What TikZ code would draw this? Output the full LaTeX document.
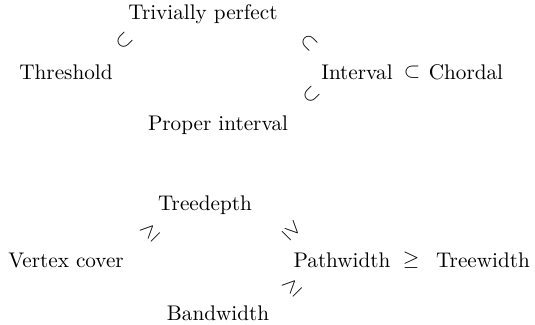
\documentclass[tikz,border=0pt]{standalone}
\begin{document}
\begin{tikzpicture}[x=0.472pt,y=-0.472pt,
  lbl/.style={inner sep=0pt},
  rel/.style={inner sep=0pt}]
\useasboundingbox (0,0) rectangle (535,324);
% top diagram
\node[lbl] (tp) at (203,14) {Trivially perfect};
\node[lbl] (th) at (66,72) {Threshold};
\node[lbl] (iv) at (357,72) {Interval};
\node[lbl] (ch) at (466,72) {Chordal};
\node[lbl] (pi) at (218,125) {Proper interval};
\node[rel,rotate=45] (s1) at (124,41) {$\subset$};
\node[rel,rotate=-45] (s2) at (309,43) {$\subset$};
\node[rel,rotate=45] (s3) at (311,95) {$\subset$};
\node[rel] (s4) at (412,72) {$\subset$};
% bottom diagram
\node[lbl] (td) at (205,205) {Treedepth};
\node[lbl] (vc) at (66,260) {Vertex cover};
\node[lbl] (pw) at (342,260) {Pathwidth};
\node[lbl] (tw) at (483,260) {Treewidth};
\node[lbl] (bw) at (218,313) {Bandwidth};
\node[rel,rotate=45] (g1) at (150,232) {$\geq$};
\node[rel,rotate=-45] (g2) at (292,231) {$\geq$};
\node[rel,rotate=45] (g3) at (292,287) {$\geq$};
\node[rel] (g4) at (411,260) {$\geq$};
\end{tikzpicture}
\end{document}
